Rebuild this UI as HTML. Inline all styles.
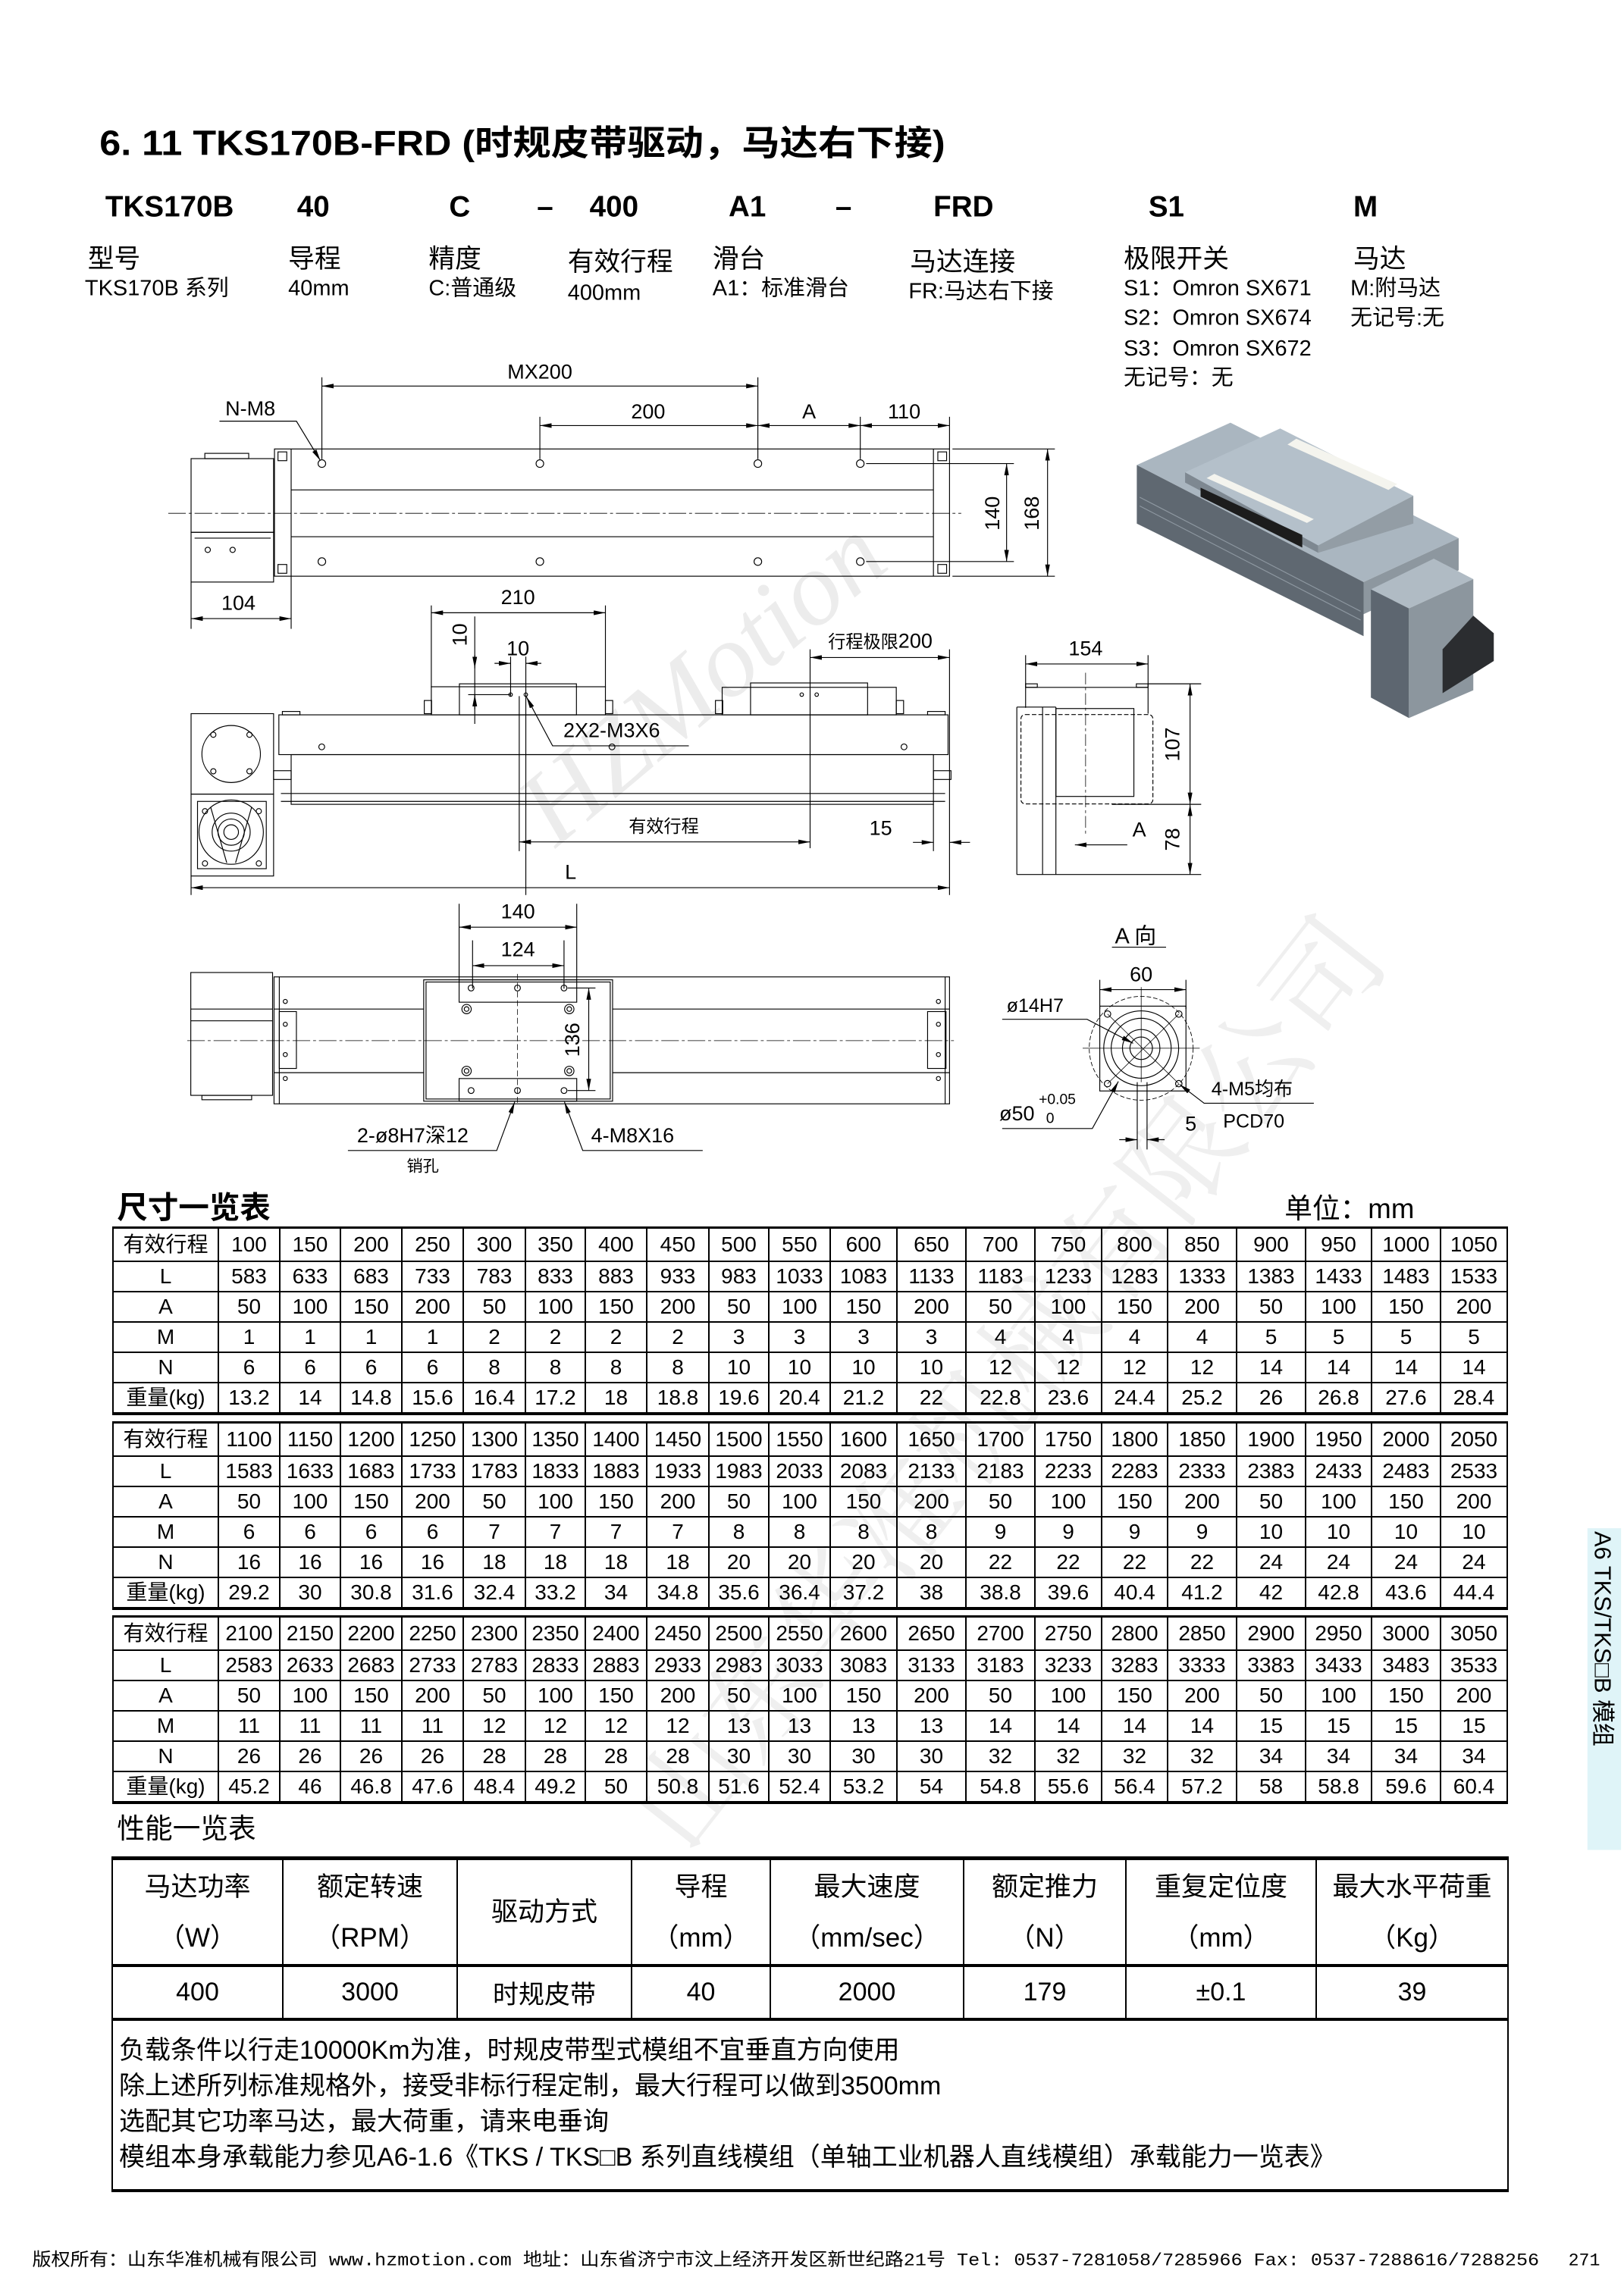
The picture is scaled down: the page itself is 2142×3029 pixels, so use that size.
<!DOCTYPE html>
<html><head><meta charset="utf-8">
<style>
html,body{margin:0;padding:0;background:#fff}
#pg{position:relative;width:2142px;height:3029px;overflow:hidden;background:#fff;font-family:"Liberation Sans","Noto Sans CJK SC",sans-serif}
table.d{position:absolute;left:148px;border-collapse:collapse;table-layout:fixed;width:1840px;font-size:28px;color:#000}
table.d td{border:2px solid #000;text-align:center;padding:0;height:38px;line-height:38px;white-space:nowrap;overflow:hidden}
table.d tr:first-child td{height:42px;line-height:42px;border-top:3px solid #000}
table.d tr:last-child td{border-bottom:4px solid #000}
table.d td:first-child{font-family:"Liberation Sans","Noto Sans CJK SC",sans-serif}
table.p{position:absolute;left:147px;top:2449px;border-collapse:collapse;table-layout:fixed;width:1841px;color:#000;font-size:35px}
table.p td{border:2px solid #000;text-align:center;padding:0;font-family:"Liberation Sans","Noto Sans CJK SC",sans-serif}
table.p tr.h td{height:137px;line-height:67px;border-top:5px solid #000;border-bottom:4px solid #000}
table.p tr.v td{height:67px;font-size:34px;border-bottom:4px solid #000}
table.p td.n{text-align:left;height:206px;vertical-align:top;padding:16px 0 0 8px;font-size:34px;line-height:47px;border-bottom:4px solid #000}
</style></head><body><div id="pg">

<svg width="2142" height="3029" viewBox="0 0 1110 1570" preserveAspectRatio="none" style="position:absolute;left:0;top:0" xmlns="http://www.w3.org/2000/svg" font-family="Liberation Sans, Noto Sans CJK SC, sans-serif">
<defs>
<marker id="a" viewBox="0 0 10 4" refX="10" refY="2" markerUnits="userSpaceOnUse" markerWidth="8" markerHeight="3.2" orient="auto-start-reverse"><path d="M0,0L10,2L0,4z" fill="#000"/></marker>
</defs>

<text x="380" y="580" font-family="Liberation Serif, serif" font-style="italic" font-size="72" fill="#ececec" transform="rotate(-40 380 580)">HZMotion</text>
<text x="470" y="1270" font-family="Noto Serif CJK SC, serif" font-size="78" fill="#efefef" transform="rotate(-52 470 1270)">山东华准机械有限公司</text>

<text x="68" y="106" font-size="24" font-weight="bold" textLength="578" lengthAdjust="spacingAndGlyphs">6. 11 TKS170B-FRD (时规皮带驱动，马达右下接)</text>
<g font-size="20" font-weight="bold">
<text x="72" y="148">TKS170B</text><text x="203" y="148">40</text><text x="307" y="148">C</text><text x="367" y="148">–</text><text x="403" y="148">400</text><text x="498" y="148">A1</text><text x="571" y="148">–</text><text x="638" y="148">FRD</text><text x="785" y="148">S1</text><text x="925" y="148">M</text>
</g>
<g font-size="18">
<text x="60" y="183">型号</text><text x="197" y="183">导程</text><text x="293" y="183">精度</text><text x="388" y="185">有效行程</text><text x="487" y="183">滑台</text><text x="622" y="185">马达连接</text><text x="768" y="183">极限开关</text><text x="925" y="183">马达</text>
</g>
<g font-size="15">
<text x="58" y="202">TKS170B 系列</text><text x="197" y="202">40mm</text><text x="293" y="202">C:普通级</text><text x="388" y="205">400mm</text><text x="487" y="202">A1：标准滑台</text><text x="621" y="204">FR:马达右下接</text>
<text x="768" y="202">S1：Omron SX671</text><text x="768" y="222">S2：Omron SX674</text><text x="768" y="243">S3：Omron SX672</text><text x="768" y="263">无记号：无</text>
<text x="923" y="202">M:附马达</text><text x="923" y="222">无记号:无</text>
</g>

<g stroke="#000" stroke-width="0.6" fill="none">
<rect x="187.6" y="307" width="461.4" height="87"/>
<line x1="199" y1="307" x2="199" y2="394"/><line x1="638" y1="307" x2="638" y2="394"/>
<line x1="199" y1="335" x2="638" y2="335"/><line x1="199" y1="367" x2="638" y2="367"/>
<rect x="190" y="309" width="6" height="6"/><rect x="190" y="386" width="6" height="6"/><rect x="641" y="309" width="6" height="6"/><rect x="641" y="386" width="6" height="6"/>
<line x1="115" y1="351" x2="657" y2="351" stroke-dasharray="12,2,2,2" stroke-width="0.4"/>
<rect x="130.6" y="313.6" width="56.4" height="50.4"/><rect x="130.6" y="364" width="56.4" height="34"/>
<rect x="140" y="310" width="30" height="3.6"/>
<line x1="133" y1="368" x2="185" y2="368"/>
<circle cx="142" cy="376" r="1.8"/><circle cx="159" cy="376" r="1.8"/>
<g>
<circle cx="220" cy="317" r="2.6"/><circle cx="369" cy="317" r="2.6"/><circle cx="518" cy="317" r="2.6"/><circle cx="588" cy="317" r="2.6"/>
<circle cx="220" cy="384" r="2.6"/><circle cx="369" cy="384" r="2.6"/><circle cx="518" cy="384" r="2.6"/><circle cx="588" cy="384" r="2.6"/>
</g>
<line x1="220" y1="258" x2="220" y2="314"/><line x1="518" y1="258" x2="518" y2="314"/>
<line x1="369" y1="285" x2="369" y2="314"/><line x1="588" y1="285" x2="588" y2="314"/><line x1="649" y1="285" x2="649" y2="307"/>
<line x1="220" y1="264" x2="518" y2="264" marker-start="url(#a)" marker-end="url(#a)"/>
<line x1="369" y1="291" x2="518" y2="291" marker-start="url(#a)" marker-end="url(#a)"/>
<line x1="518" y1="291" x2="588" y2="291" marker-start="url(#a)" marker-end="url(#a)"/>
<line x1="588" y1="291" x2="649" y2="291" marker-start="url(#a)" marker-end="url(#a)"/>
<polyline points="150,288 202.6,288 219,315" marker-end="url(#a)"/>
<line x1="592" y1="317" x2="693" y2="317"/><line x1="592" y1="384" x2="693" y2="384"/>
<line x1="688" y1="317" x2="688" y2="384" marker-start="url(#a)" marker-end="url(#a)"/>
<line x1="651" y1="307" x2="721" y2="307"/><line x1="651" y1="394" x2="721" y2="394"/>
<line x1="716" y1="307" x2="716" y2="394" marker-start="url(#a)" marker-end="url(#a)"/>
<line x1="130.6" y1="398" x2="130.6" y2="430"/><line x1="199" y1="394" x2="199" y2="430"/>
<line x1="130.6" y1="423" x2="199" y2="423" marker-start="url(#a)" marker-end="url(#a)"/>

<rect x="190.6" y="488.8" width="457.4" height="27.2"/>
<rect x="193" y="486.5" width="12" height="2.3"/><rect x="634" y="486.5" width="12" height="2.3"/>
<rect x="199" y="516" width="439" height="34"/>
<line x1="192" y1="542.6" x2="646" y2="542.6"/><line x1="192" y1="548" x2="646" y2="548"/>
<rect x="187" y="527" width="12" height="6"/><rect x="638" y="527" width="12" height="6"/>
<circle cx="219.9" cy="510.7" r="2"/><circle cx="418.3" cy="510.7" r="2"/><circle cx="617.9" cy="510.7" r="2"/>
<rect x="130.6" y="488" width="56.4" height="55"/>
<ellipse cx="158" cy="515.6" rx="20" ry="19.5"/>
<circle cx="145.8" cy="502.4" r="1.8"/><circle cx="170.5" cy="502.4" r="1.8"/><circle cx="145.8" cy="527.4" r="1.8"/><circle cx="170.5" cy="527.4" r="1.8"/>
<rect x="130.6" y="543" width="56.4" height="56"/>
<rect x="135" y="548" width="47" height="46"/>
<circle cx="158" cy="569" r="22"/><circle cx="158" cy="569" r="13"/><circle cx="158" cy="569" r="9"/><circle cx="158" cy="569" r="5"/>
<line x1="144" y1="552" x2="155" y2="590"/><line x1="172" y1="552" x2="161" y2="590"/>
<circle cx="140.1" cy="554.7" r="1.8"/><circle cx="176.9" cy="554.7" r="1.8"/><circle cx="140.1" cy="590.4" r="1.8"/><circle cx="176.9" cy="590.4" r="1.8"/>
<rect x="294.8" y="469.6" width="119" height="19.2"/>
<rect x="314" y="467.6" width="80" height="21.2"/>
<rect x="290" y="479" width="5" height="9"/><rect x="413.8" y="479" width="5" height="9"/>
<circle cx="349" cy="475" r="1.2"/><circle cx="359.4" cy="475" r="1.2"/>
<rect x="493.6" y="470" width="119" height="18.8"/>
<rect x="513" y="467" width="80" height="21.8"/>
<rect x="489" y="479" width="5" height="9"/><rect x="612.6" y="479" width="5" height="9"/>
<circle cx="548" cy="475" r="1.2"/><circle cx="558.2" cy="475" r="1.2"/>
<line x1="294.8" y1="414" x2="294.8" y2="470"/><line x1="413.8" y1="414" x2="413.8" y2="470"/>
<line x1="294.8" y1="419" x2="413.8" y2="419" marker-start="url(#a)" marker-end="url(#a)"/>
<line x1="324.5" y1="421.5" x2="324.5" y2="495"/>
<line x1="324.5" y1="448" x2="324.5" y2="457" marker-end="url(#a)"/>
<line x1="324.5" y1="485" x2="324.5" y2="475" marker-end="url(#a)"/>
<line x1="320" y1="475" x2="349" y2="475"/>
<line x1="349" y1="449" x2="349" y2="476"/><line x1="359.4" y1="449" x2="359.4" y2="612"/>
<line x1="338" y1="453.6" x2="349" y2="453.6" marker-end="url(#a)"/>
<line x1="370" y1="453.6" x2="359.4" y2="453.6" marker-end="url(#a)"/>
<polyline points="470.8,510 377.7,510 359.8,476.5" marker-end="url(#a)"/>
<line x1="553.7" y1="444" x2="553.7" y2="580"/><line x1="649" y1="444" x2="649" y2="612"/>
<line x1="553.7" y1="449.6" x2="649" y2="449.6" marker-start="url(#a)" marker-end="url(#a)"/>
<line x1="354.9" y1="476" x2="354.9" y2="582"/>
<line x1="354.9" y1="575.7" x2="553.7" y2="575.7" marker-start="url(#a)" marker-end="url(#a)"/>
<line x1="638" y1="550" x2="638" y2="582"/>
<line x1="624" y1="576" x2="638" y2="576" marker-end="url(#a)"/>
<line x1="663" y1="576" x2="649" y2="576" marker-end="url(#a)"/>
<line x1="130.6" y1="599" x2="130.6" y2="612"/>
<line x1="130.6" y1="607" x2="649" y2="607" marker-start="url(#a)" marker-end="url(#a)"/>

<line x1="701" y1="448" x2="701" y2="484"/><line x1="784.7" y1="448" x2="784.7" y2="488"/>
<line x1="701" y1="454" x2="784.7" y2="454" marker-start="url(#a)" marker-end="url(#a)"/>
<line x1="701" y1="470" x2="784.7" y2="470"/>
<rect x="701" y="467.6" width="8" height="2.4"/><rect x="776.7" y="467.6" width="8" height="2.4"/>
<line x1="784.7" y1="467.6" x2="821" y2="467.6"/>
<line x1="695" y1="483.5" x2="695" y2="598"/><line x1="695" y1="483.5" x2="721.7" y2="483.5"/>
<line x1="695" y1="598" x2="821" y2="598"/>
<line x1="712.6" y1="483.5" x2="712.6" y2="598"/><line x1="721.7" y1="483.5" x2="721.7" y2="598"/>
<rect x="721.7" y="484.5" width="53.3" height="60.1"/>
<rect x="697.8" y="488.6" width="90.2" height="61.1" rx="3" stroke-dasharray="3,1.5"/>
<line x1="760" y1="550" x2="821" y2="550"/>
<line x1="742" y1="460" x2="742" y2="570" stroke-dasharray="8,2,2,2" stroke-width="0.4"/>
<line x1="813.4" y1="467.6" x2="813.4" y2="550" marker-start="url(#a)" marker-end="url(#a)"/>
<line x1="813.4" y1="550" x2="813.4" y2="598" marker-start="url(#a)" marker-end="url(#a)"/>
<line x1="770.5" y1="577.7" x2="734.7" y2="577.7" marker-end="url(#a)"/>

<rect x="187.3" y="668" width="461.7" height="86.8"/>
<line x1="190.9" y1="668" x2="190.9" y2="754.8"/><line x1="646" y1="668" x2="646" y2="754.8"/>
<rect x="130.4" y="665" width="55.9" height="84"/>
<line x1="130.4" y1="690" x2="186.3" y2="690"/><line x1="130.4" y1="698" x2="186.3" y2="698"/>
<rect x="138" y="749" width="34" height="3"/>
<line x1="187.3" y1="690" x2="289.6" y2="690"/><line x1="418.7" y1="690" x2="649" y2="690"/>
<line x1="187.3" y1="733.5" x2="289.6" y2="733.5"/><line x1="418.7" y1="733.5" x2="649" y2="733.5"/>
<line x1="128" y1="711.6" x2="652" y2="711.6" stroke-dasharray="12,2,2,2" stroke-width="0.4"/>
<rect x="289.6" y="670" width="129.1" height="83"/>
<rect x="291.2" y="671.5" width="125.9" height="80"/>
<rect x="313.8" y="670" width="80.4" height="15.3"/><rect x="313.8" y="737.5" width="80.4" height="15.5"/>
<line x1="353.7" y1="666" x2="353.7" y2="756" stroke-dasharray="4,2" stroke-width="0.4"/>
<circle cx="322" cy="675.6" r="2"/><circle cx="353.7" cy="675.6" r="2"/><circle cx="385.5" cy="675.6" r="2"/>
<circle cx="322" cy="745.7" r="2"/><circle cx="353.7" cy="745.7" r="2"/><circle cx="385.5" cy="745.7" r="2"/>
<circle cx="318.9" cy="690" r="3.2"/><circle cx="318.9" cy="690" r="1.6"/><circle cx="389.1" cy="690" r="3.2"/><circle cx="389.1" cy="690" r="1.6"/>
<circle cx="318.9" cy="732.3" r="3.2"/><circle cx="318.9" cy="732.3" r="1.6"/><circle cx="389.1" cy="732.3" r="3.2"/><circle cx="389.1" cy="732.3" r="1.6"/>
<rect x="190.9" y="691.7" width="11.7" height="38.9"/><rect x="634" y="691.7" width="12.6" height="38.9"/>
<circle cx="195" cy="684.8" r="1.4"/><circle cx="195" cy="700.4" r="1.4"/><circle cx="195" cy="721.1" r="1.4"/><circle cx="195" cy="737.5" r="1.4"/>
<circle cx="641.4" cy="684.8" r="1.4"/><circle cx="641.4" cy="700.4" r="1.4"/><circle cx="641.4" cy="721.1" r="1.4"/><circle cx="641.4" cy="737.5" r="1.4"/>
<line x1="313.8" y1="618" x2="313.8" y2="670"/><line x1="394.2" y1="618" x2="394.2" y2="670"/>
<line x1="313.8" y1="634" x2="394.2" y2="634" marker-start="url(#a)" marker-end="url(#a)"/>
<line x1="323" y1="643" x2="323" y2="676"/><line x1="385.5" y1="643" x2="385.5" y2="676"/>
<line x1="323" y1="660.3" x2="385.5" y2="660.3" marker-start="url(#a)" marker-end="url(#a)"/>
<line x1="388" y1="675.6" x2="407" y2="675.6"/><line x1="388" y1="745.7" x2="407" y2="745.7"/>
<line x1="402.4" y1="675.6" x2="402.4" y2="745.7" marker-start="url(#a)" marker-end="url(#a)"/>
<polyline points="237.8,786.7 339.5,786.7 351.8,753.5" marker-end="url(#a)"/>
<polyline points="480.3,786.7 398.3,786.7 385.8,753.5" marker-end="url(#a)"/>

<line x1="760" y1="647.7" x2="797" y2="647.7"/>
<line x1="751.7" y1="670" x2="751.7" y2="690"/><line x1="810.6" y1="670" x2="810.6" y2="690"/>
<line x1="751.7" y1="676.7" x2="810.6" y2="676.7" marker-start="url(#a)" marker-end="url(#a)"/>
<circle cx="780" cy="716.8" r="35.5" stroke-dasharray="3,1.5" stroke-width="0.45"/>
<rect x="751.7" y="688" width="58.9" height="58"/>
<circle cx="780" cy="716.8" r="25.6"/><circle cx="780" cy="716.8" r="20.5"/><circle cx="780" cy="716.8" r="12.8"/><circle cx="780" cy="716.8" r="7.7"/>
<line x1="757" y1="693.4" x2="805.7" y2="741" stroke-width="0.4"/><line x1="805.7" y1="693.4" x2="757" y2="741" stroke-width="0.4"/>
<line x1="740" y1="716.8" x2="820" y2="716.8" stroke-width="0.4"/>
<line x1="780" y1="675" x2="780" y2="740" stroke-width="0.4"/>
<circle cx="757" cy="693.4" r="2.2"/><circle cx="805.7" cy="693.4" r="2.2"/><circle cx="757" cy="741" r="2.2"/><circle cx="805.7" cy="741" r="2.2"/>
<polyline points="685,697 743,697 774.5,713.4" marker-end="url(#a)"/>
<polyline points="685,771.7 746.6,771.7 764.4,739.5" marker-end="url(#a)"/>
<polyline points="898,754.4 823,754.4 806.2,741.5" marker-end="url(#a)"/>
<line x1="777.3" y1="740" x2="777.3" y2="786"/><line x1="784" y1="740" x2="784" y2="786"/>
<line x1="765" y1="779.3" x2="777.3" y2="779.3" marker-end="url(#a)"/>
<line x1="796" y1="779.3" x2="784" y2="779.3" marker-end="url(#a)"/>
</g>

<g font-size="14" fill="#000" font-family="Liberation Sans, Noto Sans CJK SC, sans-serif">
<text x="369" y="259" text-anchor="middle">MX200</text>
<text x="443" y="286" text-anchor="middle">200</text>
<text x="553" y="286" text-anchor="middle">A</text>
<text x="618" y="286" text-anchor="middle">110</text>
<text x="154" y="284">N-M8</text>
<text x="683" y="351" text-anchor="middle" transform="rotate(-90 683 351)">140</text>
<text x="710" y="351" text-anchor="middle" transform="rotate(-90 710 351)">168</text>
<text x="163" y="417" text-anchor="middle">104</text>
<text x="354" y="413" text-anchor="middle">210</text>
<text x="319" y="434" text-anchor="middle" transform="rotate(-90 319 434)">10</text>
<text x="354" y="448" text-anchor="middle">10</text>
<text x="385" y="504">2X2-M3X6</text>
<text x="566" y="443" font-size="12">行程极限<tspan font-size="14">200</tspan></text>
<text x="453.7" y="569" text-anchor="middle" font-size="12">有效行程</text>
<text x="602" y="571" text-anchor="middle">15</text>
<text x="390" y="601" text-anchor="middle">L</text>
<text x="742" y="448" text-anchor="middle">154</text>
<text x="806" y="509" text-anchor="middle" transform="rotate(-90 806 509)">107</text>
<text x="806" y="574" text-anchor="middle" transform="rotate(-90 806 574)">78</text>
<text x="774" y="572">A</text>
<text x="354" y="628" text-anchor="middle">140</text>
<text x="354" y="654" text-anchor="middle">124</text>
<text x="396" y="711" text-anchor="middle" transform="rotate(-90 396 711)">136</text>
<text x="244" y="781">2-ø8H7深12</text>
<text x="278" y="801" font-size="11">销孔</text>
<text x="404" y="781">4-M8X16</text>
<text x="762" y="645" font-size="15">A 向</text>
<text x="780" y="671" text-anchor="middle">60</text>
<text x="688" y="692" font-size="13">ø14H7</text>
<text x="683" y="766">ø50</text>
<text x="710" y="755" font-size="10">+0.05</text>
<text x="715" y="768" font-size="10">0</text>
<text x="828" y="749" font-size="13">4-M5均布</text>
<text x="836" y="771" font-size="13">PCD70</text>
<text x="810" y="773">5</text>
</g>

<g stroke="none">
<polygon points="777,318 841,289 997,368 932,398" fill="#aab6c0"/>
<polygon points="777,318 932,398 932,435 777,358" fill="#5f6871"/>
<polygon points="932,398 997,368 997,390 932,420" fill="#8d979f"/>
<line x1="779" y1="340" x2="930" y2="418" stroke="#8e98a1" stroke-width="0.6"/>
<line x1="779" y1="346" x2="930" y2="424" stroke="#8e98a1" stroke-width="0.6"/>
<polygon points="810,323 875,293 966,339 901,373" fill="#b4c0ca"/>
<polygon points="810,323 901,373 901,378 810,330" fill="#7e8891"/>
<polygon points="901,373 966,339 966,358 901,378" fill="#939da5"/>
<polygon points="820.6,333.5 890.1,365.8 890.1,374.4 820.6,339.6" fill="#1c1c1c"/>
<polygon points="824.7,326.9 830,324 898,355 893.3,357.6" fill="#f4f4ee"/>
<polygon points="880,304 886,300 955,331 949,335" fill="#f4f4ee"/>
<polygon points="937,403 980,382 1007,396 963,416" fill="#b0bbc4"/>
<polygon points="937,403 963,416 963,491 937,477" fill="#5d6670"/>
<polygon points="963,416 1007,396 1007,472 963,491" fill="#8c969e"/>
<polygon points="1007,421 1021,433 1021,452 986,474 986,444" fill="#2b2d30"/>
</g>

<text x="80" y="833" font-size="21" font-weight="bold">尺寸一览表</text>
<text x="878" y="833" font-size="19">单位：mm</text>
<text x="80" y="1257" font-size="19">性能一览表</text>

<rect x="1085" y="1045" width="23" height="220" fill="#dff4f8"/>
<text x="1090" y="1047" font-size="16" transform="rotate(90 1090 1047)">A6 TKS/TKS□B 模组</text>

<text x="22" y="1549" font-size="12" font-family="Liberation Mono, Noto Sans CJK SC, monospace" textLength="1030" lengthAdjust="spacingAndGlyphs">版权所有：山东华准机械有限公司 www.hzmotion.com  地址：山东省济宁市汶上经济开发区新世纪路21号  Tel: 0537-7281058/7285966 Fax: 0537-7288616/7288256</text>
<text x="1072" y="1549" font-size="12" font-family="Liberation Mono, monospace">271</text>
</svg>

<table class="d" style="top:1618px">
<colgroup><col style="width:139px"><col style="width:81px"><col style="width:80px"><col style="width:81px"><col style="width:81px"><col style="width:82px"><col style="width:79px"><col style="width:81px"><col style="width:82px"><col style="width:79px"><col style="width:81px"><col style="width:88px"><col style="width:91px"><col style="width:91px"><col style="width:88px"><col style="width:87px"><col style="width:91px"><col style="width:91px"><col style="width:87px"><col style="width:91px"><col style="width:88px"></colgroup>
<tr><td>有效行程</td><td>100</td><td>150</td><td>200</td><td>250</td><td>300</td><td>350</td><td>400</td><td>450</td><td>500</td><td>550</td><td>600</td><td>650</td><td>700</td><td>750</td><td>800</td><td>850</td><td>900</td><td>950</td><td>1000</td><td>1050</td></tr>
<tr><td>L</td><td>583</td><td>633</td><td>683</td><td>733</td><td>783</td><td>833</td><td>883</td><td>933</td><td>983</td><td>1033</td><td>1083</td><td>1133</td><td>1183</td><td>1233</td><td>1283</td><td>1333</td><td>1383</td><td>1433</td><td>1483</td><td>1533</td></tr>
<tr><td>A</td><td>50</td><td>100</td><td>150</td><td>200</td><td>50</td><td>100</td><td>150</td><td>200</td><td>50</td><td>100</td><td>150</td><td>200</td><td>50</td><td>100</td><td>150</td><td>200</td><td>50</td><td>100</td><td>150</td><td>200</td></tr>
<tr><td>M</td><td>1</td><td>1</td><td>1</td><td>1</td><td>2</td><td>2</td><td>2</td><td>2</td><td>3</td><td>3</td><td>3</td><td>3</td><td>4</td><td>4</td><td>4</td><td>4</td><td>5</td><td>5</td><td>5</td><td>5</td></tr>
<tr><td>N</td><td>6</td><td>6</td><td>6</td><td>6</td><td>8</td><td>8</td><td>8</td><td>8</td><td>10</td><td>10</td><td>10</td><td>10</td><td>12</td><td>12</td><td>12</td><td>12</td><td>14</td><td>14</td><td>14</td><td>14</td></tr>
<tr><td>重量(kg)</td><td>13.2</td><td>14</td><td>14.8</td><td>15.6</td><td>16.4</td><td>17.2</td><td>18</td><td>18.8</td><td>19.6</td><td>20.4</td><td>21.2</td><td>22</td><td>22.8</td><td>23.6</td><td>24.4</td><td>25.2</td><td>26</td><td>26.8</td><td>27.6</td><td>28.4</td></tr>
</table>

<table class="d" style="top:1875px">
<colgroup><col style="width:139px"><col style="width:81px"><col style="width:80px"><col style="width:81px"><col style="width:81px"><col style="width:82px"><col style="width:79px"><col style="width:81px"><col style="width:82px"><col style="width:79px"><col style="width:81px"><col style="width:88px"><col style="width:91px"><col style="width:91px"><col style="width:88px"><col style="width:87px"><col style="width:91px"><col style="width:91px"><col style="width:87px"><col style="width:91px"><col style="width:88px"></colgroup>
<tr><td>有效行程</td><td>1100</td><td>1150</td><td>1200</td><td>1250</td><td>1300</td><td>1350</td><td>1400</td><td>1450</td><td>1500</td><td>1550</td><td>1600</td><td>1650</td><td>1700</td><td>1750</td><td>1800</td><td>1850</td><td>1900</td><td>1950</td><td>2000</td><td>2050</td></tr>
<tr><td>L</td><td>1583</td><td>1633</td><td>1683</td><td>1733</td><td>1783</td><td>1833</td><td>1883</td><td>1933</td><td>1983</td><td>2033</td><td>2083</td><td>2133</td><td>2183</td><td>2233</td><td>2283</td><td>2333</td><td>2383</td><td>2433</td><td>2483</td><td>2533</td></tr>
<tr><td>A</td><td>50</td><td>100</td><td>150</td><td>200</td><td>50</td><td>100</td><td>150</td><td>200</td><td>50</td><td>100</td><td>150</td><td>200</td><td>50</td><td>100</td><td>150</td><td>200</td><td>50</td><td>100</td><td>150</td><td>200</td></tr>
<tr><td>M</td><td>6</td><td>6</td><td>6</td><td>6</td><td>7</td><td>7</td><td>7</td><td>7</td><td>8</td><td>8</td><td>8</td><td>8</td><td>9</td><td>9</td><td>9</td><td>9</td><td>10</td><td>10</td><td>10</td><td>10</td></tr>
<tr><td>N</td><td>16</td><td>16</td><td>16</td><td>16</td><td>18</td><td>18</td><td>18</td><td>18</td><td>20</td><td>20</td><td>20</td><td>20</td><td>22</td><td>22</td><td>22</td><td>22</td><td>24</td><td>24</td><td>24</td><td>24</td></tr>
<tr><td>重量(kg)</td><td>29.2</td><td>30</td><td>30.8</td><td>31.6</td><td>32.4</td><td>33.2</td><td>34</td><td>34.8</td><td>35.6</td><td>36.4</td><td>37.2</td><td>38</td><td>38.8</td><td>39.6</td><td>40.4</td><td>41.2</td><td>42</td><td>42.8</td><td>43.6</td><td>44.4</td></tr>
</table>

<table class="d" style="top:2131px">
<colgroup><col style="width:139px"><col style="width:81px"><col style="width:80px"><col style="width:81px"><col style="width:81px"><col style="width:82px"><col style="width:79px"><col style="width:81px"><col style="width:82px"><col style="width:79px"><col style="width:81px"><col style="width:88px"><col style="width:91px"><col style="width:91px"><col style="width:88px"><col style="width:87px"><col style="width:91px"><col style="width:91px"><col style="width:87px"><col style="width:91px"><col style="width:88px"></colgroup>
<tr><td>有效行程</td><td>2100</td><td>2150</td><td>2200</td><td>2250</td><td>2300</td><td>2350</td><td>2400</td><td>2450</td><td>2500</td><td>2550</td><td>2600</td><td>2650</td><td>2700</td><td>2750</td><td>2800</td><td>2850</td><td>2900</td><td>2950</td><td>3000</td><td>3050</td></tr>
<tr><td>L</td><td>2583</td><td>2633</td><td>2683</td><td>2733</td><td>2783</td><td>2833</td><td>2883</td><td>2933</td><td>2983</td><td>3033</td><td>3083</td><td>3133</td><td>3183</td><td>3233</td><td>3283</td><td>3333</td><td>3383</td><td>3433</td><td>3483</td><td>3533</td></tr>
<tr><td>A</td><td>50</td><td>100</td><td>150</td><td>200</td><td>50</td><td>100</td><td>150</td><td>200</td><td>50</td><td>100</td><td>150</td><td>200</td><td>50</td><td>100</td><td>150</td><td>200</td><td>50</td><td>100</td><td>150</td><td>200</td></tr>
<tr><td>M</td><td>11</td><td>11</td><td>11</td><td>11</td><td>12</td><td>12</td><td>12</td><td>12</td><td>13</td><td>13</td><td>13</td><td>13</td><td>14</td><td>14</td><td>14</td><td>14</td><td>15</td><td>15</td><td>15</td><td>15</td></tr>
<tr><td>N</td><td>26</td><td>26</td><td>26</td><td>26</td><td>28</td><td>28</td><td>28</td><td>28</td><td>30</td><td>30</td><td>30</td><td>30</td><td>32</td><td>32</td><td>32</td><td>32</td><td>34</td><td>34</td><td>34</td><td>34</td></tr>
<tr><td>重量(kg)</td><td>45.2</td><td>46</td><td>46.8</td><td>47.6</td><td>48.4</td><td>49.2</td><td>50</td><td>50.8</td><td>51.6</td><td>52.4</td><td>53.2</td><td>54</td><td>54.8</td><td>55.6</td><td>56.4</td><td>57.2</td><td>58</td><td>58.8</td><td>59.6</td><td>60.4</td></tr>
</table>

<table class="p">
<colgroup><col style="width:225px"><col style="width:230px"><col style="width:230px"><col style="width:183px"><col style="width:255px"><col style="width:214px"><col style="width:251px"><col style="width:253px"></colgroup>
<tr class="h"><td>马达功率<br>（W）</td><td>额定转速<br>（RPM）</td><td>驱动方式</td><td>导程<br>（mm）</td><td>最大速度<br>（mm/sec）</td><td>额定推力<br>（N）</td><td>重复定位度<br>（mm）</td><td>最大水平荷重<br>（Kg）</td></tr>
<tr class="v"><td>400</td><td>3000</td><td>时规皮带</td><td>40</td><td>2000</td><td>179</td><td>±0.1</td><td>39</td></tr>
<tr><td class="n" colspan="8">负载条件以行走10000Km为准，时规皮带型式模组不宜垂直方向使用<br>除上述所列标准规格外，接受非标行程定制，最大行程可以做到3500mm<br>选配其它功率马达，最大荷重，请来电垂询<br>模组本身承载能力参见A6-1.6《TKS / TKS□B 系列直线模组（单轴工业机器人直线模组）承载能力一览表》</td></tr>
</table>

</div></body></html>
